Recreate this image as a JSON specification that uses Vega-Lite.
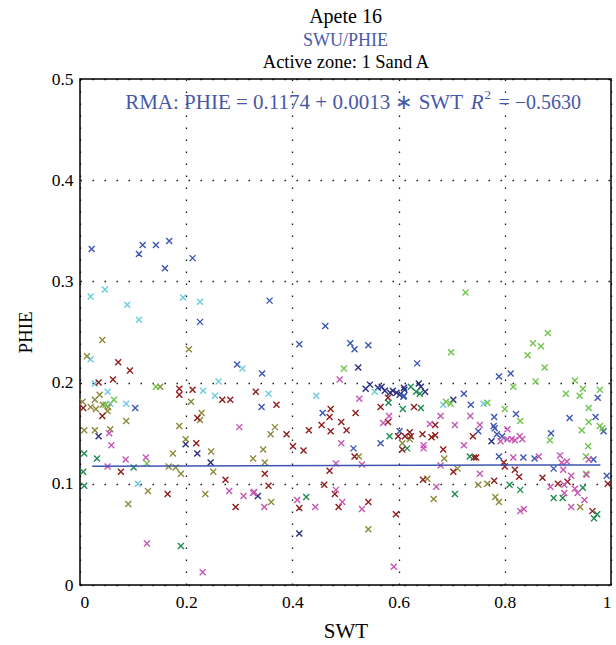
{
"$schema":"https://vega.github.io/schema/vega-lite/v6.json",
"width":531,"height":506,
"autosize":"none",
"padding":{"left":80,"top":79,"right":5,"bottom":60},
"background":"white",
"title":{"text":"Apete 16","subtitle":"SWU/PHIE","font":"Liberation Serif","fontSize":20,"fontWeight":"normal","color":"#000","subtitleFont":"Liberation Serif","subtitleFontSize":18,"subtitleColor":"#4a5aa8","subtitlePadding":5,"anchor":"middle","offset":2},
"config":{
 "view":{"stroke":"#000","strokeWidth":1.5},
 "axis":{"labelFont":"Liberation Serif","labelFontSize":17.5,"labelColor":"#000","titleFont":"Liberation Serif","titleFontSize":19,"titleFontWeight":"normal","titleColor":"#000","domain":false,"ticks":false,"grid":true,"gridColor":"#000","gridDash":[1.5,10.5],"gridWidth":1.3,"gridOpacity":0.9}
},
"datasets":{
"pts":[
{"g":"B","SWT":0.022,"PHIE":0.332},{"g":"B","SWT":0.111,"PHIE":0.327},{"g":"B","SWT":0.118,"PHIE":0.336},{"g":"B","SWT":0.143,"PHIE":0.336},{"g":"B","SWT":0.168,"PHIE":0.340},{"g":"B","SWT":0.160,"PHIE":0.313},{"g":"B","SWT":0.212,"PHIE":0.323},{"g":"B","SWT":0.226,"PHIE":0.260},{"g":"B","SWT":0.296,"PHIE":0.218},{"g":"B","SWT":0.104,"PHIE":0.175},{"g":"B","SWT":0.413,"PHIE":0.238},{"g":"B","SWT":0.343,"PHIE":0.209},{"g":"B","SWT":0.342,"PHIE":0.176},{"g":"B","SWT":0.457,"PHIE":0.170},{"g":"B","SWT":0.357,"PHIE":0.281},{"g":"B","SWT":0.462,"PHIE":0.256},{"g":"B","SWT":0.509,"PHIE":0.239},{"g":"B","SWT":0.517,"PHIE":0.233},{"g":"B","SWT":0.543,"PHIE":0.237},{"g":"B","SWT":0.635,"PHIE":0.219},{"g":"B","SWT":0.610,"PHIE":0.187},{"g":"B","SWT":0.723,"PHIE":0.189},{"g":"B","SWT":0.566,"PHIE":0.140},{"g":"B","SWT":0.515,"PHIE":0.135},{"g":"B","SWT":0.602,"PHIE":0.152},{"g":"B","SWT":0.789,"PHIE":0.206},{"g":"B","SWT":0.811,"PHIE":0.209},{"g":"B","SWT":0.975,"PHIE":0.185},{"g":"B","SWT":0.736,"PHIE":0.178},{"g":"B","SWT":0.780,"PHIE":0.166},{"g":"B","SWT":0.821,"PHIE":0.169},{"g":"B","SWT":0.922,"PHIE":0.165},{"g":"B","SWT":0.971,"PHIE":0.166},{"g":"B","SWT":0.986,"PHIE":0.152},{"g":"B","SWT":0.750,"PHIE":0.152},{"g":"B","SWT":0.779,"PHIE":0.157},{"g":"B","SWT":0.781,"PHIE":0.155},{"g":"B","SWT":0.785,"PHIE":0.149},{"g":"B","SWT":0.795,"PHIE":0.147},{"g":"B","SWT":0.887,"PHIE":0.150},{"g":"B","SWT":0.789,"PHIE":0.127},{"g":"B","SWT":0.835,"PHIE":0.126},{"g":"B","SWT":0.856,"PHIE":0.125},{"g":"B","SWT":0.967,"PHIE":0.124},{"g":"B","SWT":0.892,"PHIE":0.115},{"g":"B","SWT":0.992,"PHIE":0.108},
{"g":"N","SWT":0.035,"PHIE":0.147},{"g":"N","SWT":0.199,"PHIE":0.139},{"g":"N","SWT":0.221,"PHIE":0.130},{"g":"N","SWT":0.246,"PHIE":0.121},{"g":"N","SWT":0.335,"PHIE":0.088},{"g":"N","SWT":0.413,"PHIE":0.051},{"g":"N","SWT":0.524,"PHIE":0.215},{"g":"N","SWT":0.538,"PHIE":0.194},{"g":"N","SWT":0.546,"PHIE":0.198},{"g":"N","SWT":0.561,"PHIE":0.195},{"g":"N","SWT":0.568,"PHIE":0.196},{"g":"N","SWT":0.574,"PHIE":0.192},{"g":"N","SWT":0.584,"PHIE":0.190},{"g":"N","SWT":0.589,"PHIE":0.192},{"g":"N","SWT":0.596,"PHIE":0.190},{"g":"N","SWT":0.602,"PHIE":0.188},{"g":"N","SWT":0.610,"PHIE":0.195},{"g":"N","SWT":0.611,"PHIE":0.193},{"g":"N","SWT":0.638,"PHIE":0.199},{"g":"N","SWT":0.642,"PHIE":0.196},{"g":"N","SWT":0.650,"PHIE":0.191},{"g":"B","SWT":0.609,"PHIE":0.186},{"g":"N","SWT":0.703,"PHIE":0.183},{"g":"N","SWT":0.775,"PHIE":0.142},
{"g":"C","SWT":0.047,"PHIE":0.292},{"g":"C","SWT":0.020,"PHIE":0.285},{"g":"C","SWT":0.089,"PHIE":0.277},{"g":"C","SWT":0.111,"PHIE":0.262},{"g":"C","SWT":0.194,"PHIE":0.284},{"g":"C","SWT":0.226,"PHIE":0.280},{"g":"C","SWT":0.020,"PHIE":0.223},{"g":"C","SWT":0.306,"PHIE":0.214},{"g":"C","SWT":0.028,"PHIE":0.199},{"g":"C","SWT":0.232,"PHIE":0.192},{"g":"C","SWT":0.261,"PHIE":0.201},{"g":"C","SWT":0.254,"PHIE":0.187},{"g":"C","SWT":0.052,"PHIE":0.191},{"g":"C","SWT":0.087,"PHIE":0.179},{"g":"C","SWT":0.057,"PHIE":0.179},{"g":"C","SWT":0.109,"PHIE":0.100},{"g":"C","SWT":0.355,"PHIE":0.189},{"g":"C","SWT":0.445,"PHIE":0.187},{"g":"C","SWT":0.555,"PHIE":0.191},{"g":"C","SWT":0.684,"PHIE":0.178},{"g":"C","SWT":0.760,"PHIE":0.179},
{"g":"O","SWT":0.042,"PHIE":0.242},{"g":"O","SWT":0.013,"PHIE":0.226},{"g":"O","SWT":0.205,"PHIE":0.233},{"g":"O","SWT":0.151,"PHIE":0.196},{"g":"O","SWT":0.209,"PHIE":0.181},{"g":"O","SWT":0.037,"PHIE":0.188},{"g":"O","SWT":0.028,"PHIE":0.183},{"g":"O","SWT":0.005,"PHIE":0.181},{"g":"O","SWT":0.020,"PHIE":0.176},{"g":"O","SWT":0.030,"PHIE":0.174},{"g":"O","SWT":0.043,"PHIE":0.178},{"g":"O","SWT":0.053,"PHIE":0.176},{"g":"O","SWT":0.052,"PHIE":0.172},{"g":"O","SWT":0.229,"PHIE":0.170},{"g":"O","SWT":0.226,"PHIE":0.163},{"g":"O","SWT":0.087,"PHIE":0.162},{"g":"O","SWT":0.187,"PHIE":0.157},{"g":"O","SWT":0.008,"PHIE":0.153},{"g":"O","SWT":0.028,"PHIE":0.153},{"g":"O","SWT":0.057,"PHIE":0.154},{"g":"O","SWT":0.199,"PHIE":0.144},{"g":"O","SWT":0.175,"PHIE":0.130},{"g":"O","SWT":0.167,"PHIE":0.117},{"g":"O","SWT":0.180,"PHIE":0.116},{"g":"O","SWT":0.190,"PHIE":0.110},{"g":"O","SWT":0.128,"PHIE":0.093},{"g":"O","SWT":0.091,"PHIE":0.080},{"g":"O","SWT":0.236,"PHIE":0.090},{"g":"O","SWT":0.251,"PHIE":0.112},{"g":"O","SWT":0.247,"PHIE":0.132},{"g":"O","SWT":0.326,"PHIE":0.125},{"g":"O","SWT":0.345,"PHIE":0.134},{"g":"O","SWT":0.348,"PHIE":0.121},{"g":"O","SWT":0.367,"PHIE":0.156},{"g":"O","SWT":0.359,"PHIE":0.149},{"g":"O","SWT":0.360,"PHIE":0.082},{"g":"O","SWT":0.525,"PHIE":0.127},{"g":"O","SWT":0.543,"PHIE":0.055},{"g":"O","SWT":0.621,"PHIE":0.144},{"g":"O","SWT":0.607,"PHIE":0.140},{"g":"O","SWT":0.686,"PHIE":0.125},{"g":"O","SWT":0.711,"PHIE":0.115},{"g":"O","SWT":0.654,"PHIE":0.105},{"g":"O","SWT":0.666,"PHIE":0.085},{"g":"O","SWT":0.750,"PHIE":0.099},{"g":"O","SWT":0.767,"PHIE":0.100},{"g":"O","SWT":0.782,"PHIE":0.087},{"g":"O","SWT":0.789,"PHIE":0.082},{"g":"O","SWT":0.942,"PHIE":0.077},
{"g":"R","SWT":0.072,"PHIE":0.220},{"g":"R","SWT":0.094,"PHIE":0.212},{"g":"R","SWT":0.062,"PHIE":0.203},{"g":"R","SWT":0.035,"PHIE":0.200},{"g":"R","SWT":0.187,"PHIE":0.194},{"g":"R","SWT":0.187,"PHIE":0.188},{"g":"R","SWT":0.212,"PHIE":0.193},{"g":"R","SWT":0.268,"PHIE":0.183},{"g":"R","SWT":0.283,"PHIE":0.183},{"g":"R","SWT":0.331,"PHIE":0.191},{"g":"R","SWT":0.006,"PHIE":0.175},{"g":"R","SWT":0.042,"PHIE":0.167},{"g":"R","SWT":0.221,"PHIE":0.165},{"g":"R","SWT":0.219,"PHIE":0.140},{"g":"R","SWT":0.077,"PHIE":0.112},{"g":"R","SWT":0.274,"PHIE":0.104},{"g":"R","SWT":0.165,"PHIE":0.090},{"g":"R","SWT":0.293,"PHIE":0.077},{"g":"R","SWT":0.370,"PHIE":0.178},{"g":"R","SWT":0.472,"PHIE":0.174},{"g":"R","SWT":0.470,"PHIE":0.166},{"g":"R","SWT":0.455,"PHIE":0.158},{"g":"R","SWT":0.472,"PHIE":0.152},{"g":"R","SWT":0.431,"PHIE":0.153},{"g":"R","SWT":0.389,"PHIE":0.149},{"g":"R","SWT":0.401,"PHIE":0.137},{"g":"R","SWT":0.421,"PHIE":0.133},{"g":"R","SWT":0.348,"PHIE":0.110},{"g":"R","SWT":0.470,"PHIE":0.113},{"g":"R","SWT":0.519,"PHIE":0.170},{"g":"R","SWT":0.580,"PHIE":0.185},{"g":"R","SWT":0.566,"PHIE":0.176},{"g":"R","SWT":0.629,"PHIE":0.176},{"g":"R","SWT":0.580,"PHIE":0.161},{"g":"R","SWT":0.492,"PHIE":0.161},{"g":"R","SWT":0.502,"PHIE":0.153},{"g":"R","SWT":0.599,"PHIE":0.147},{"g":"R","SWT":0.621,"PHIE":0.151},{"g":"R","SWT":0.623,"PHIE":0.147},{"g":"R","SWT":0.612,"PHIE":0.147},{"g":"R","SWT":0.645,"PHIE":0.149},{"g":"R","SWT":0.662,"PHIE":0.146},{"g":"R","SWT":0.669,"PHIE":0.148},{"g":"R","SWT":0.669,"PHIE":0.158},{"g":"R","SWT":0.607,"PHIE":0.134},{"g":"R","SWT":0.517,"PHIE":0.127},{"g":"R","SWT":0.684,"PHIE":0.134},{"g":"R","SWT":0.703,"PHIE":0.112},{"g":"R","SWT":0.646,"PHIE":0.104},{"g":"R","SWT":0.355,"PHIE":0.098},{"g":"R","SWT":0.413,"PHIE":0.076},{"g":"R","SWT":0.460,"PHIE":0.099},{"g":"R","SWT":0.480,"PHIE":0.090},{"g":"R","SWT":0.487,"PHIE":0.077},{"g":"R","SWT":0.543,"PHIE":0.082},{"g":"R","SWT":0.595,"PHIE":0.070},{"g":"R","SWT":0.740,"PHIE":0.147},{"g":"R","SWT":0.742,"PHIE":0.126},{"g":"R","SWT":0.746,"PHIE":0.126},{"g":"R","SWT":0.798,"PHIE":0.121},{"g":"R","SWT":0.800,"PHIE":0.117},{"g":"R","SWT":0.819,"PHIE":0.114},{"g":"R","SWT":0.827,"PHIE":0.107},{"g":"R","SWT":0.871,"PHIE":0.106},{"g":"R","SWT":0.780,"PHIE":0.103},{"g":"R","SWT":0.900,"PHIE":0.100},{"g":"R","SWT":0.918,"PHIE":0.102},{"g":"R","SWT":0.965,"PHIE":0.073},{"g":"R","SWT":0.994,"PHIE":0.100},
{"g":"G","SWT":0.008,"PHIE":0.130},{"g":"G","SWT":0.032,"PHIE":0.125},{"g":"G","SWT":0.101,"PHIE":0.116},{"g":"G","SWT":0.006,"PHIE":0.112},{"g":"G","SWT":0.008,"PHIE":0.098},{"g":"G","SWT":0.190,"PHIE":0.0385},{"g":"G","SWT":0.426,"PHIE":0.087},{"g":"G","SWT":0.623,"PHIE":0.196},{"g":"G","SWT":0.633,"PHIE":0.191},{"g":"G","SWT":0.640,"PHIE":0.189},{"g":"G","SWT":0.581,"PHIE":0.180},{"g":"G","SWT":0.608,"PHIE":0.174},{"g":"G","SWT":0.642,"PHIE":0.175},{"g":"G","SWT":0.583,"PHIE":0.147},{"g":"G","SWT":0.616,"PHIE":0.135},{"g":"G","SWT":0.734,"PHIE":0.127},{"g":"G","SWT":0.706,"PHIE":0.090},{"g":"G","SWT":0.809,"PHIE":0.099},{"g":"G","SWT":0.829,"PHIE":0.094},{"g":"G","SWT":0.892,"PHIE":0.086},{"g":"G","SWT":0.909,"PHIE":0.086},{"g":"G","SWT":0.947,"PHIE":0.096},{"g":"G","SWT":0.974,"PHIE":0.070},{"g":"G","SWT":0.968,"PHIE":0.066},
{"g":"L","SWT":0.143,"PHIE":0.196},{"g":"L","SWT":0.064,"PHIE":0.183},{"g":"L","SWT":0.048,"PHIE":0.178},{"g":"L","SWT":0.126,"PHIE":0.120},{"g":"L","SWT":0.497,"PHIE":0.214},{"g":"L","SWT":0.699,"PHIE":0.230},{"g":"L","SWT":0.726,"PHIE":0.289},{"g":"L","SWT":0.689,"PHIE":0.181},{"g":"L","SWT":0.698,"PHIE":0.179},{"g":"L","SWT":0.767,"PHIE":0.180},{"g":"L","SWT":0.800,"PHIE":0.174},{"g":"L","SWT":0.881,"PHIE":0.249},{"g":"L","SWT":0.853,"PHIE":0.239},{"g":"L","SWT":0.868,"PHIE":0.236},{"g":"L","SWT":0.843,"PHIE":0.227},{"g":"L","SWT":0.875,"PHIE":0.215},{"g":"L","SWT":0.858,"PHIE":0.201},{"g":"L","SWT":0.932,"PHIE":0.202},{"g":"L","SWT":0.816,"PHIE":0.196},{"g":"L","SWT":0.947,"PHIE":0.194},{"g":"L","SWT":0.979,"PHIE":0.193},{"g":"L","SWT":0.915,"PHIE":0.189},{"g":"L","SWT":0.941,"PHIE":0.187},{"g":"L","SWT":0.958,"PHIE":0.175},{"g":"L","SWT":0.829,"PHIE":0.162},{"g":"L","SWT":0.958,"PHIE":0.161},{"g":"L","SWT":0.945,"PHIE":0.153},{"g":"L","SWT":0.979,"PHIE":0.157},{"g":"L","SWT":0.984,"PHIE":0.155},{"g":"L","SWT":0.885,"PHIE":0.143},{"g":"L","SWT":0.957,"PHIE":0.137},{"g":"L","SWT":0.953,"PHIE":0.127},{"g":"L","SWT":0.953,"PHIE":0.110},
{"g":"M","SWT":0.055,"PHIE":0.150},{"g":"M","SWT":0.059,"PHIE":0.138},{"g":"M","SWT":0.086,"PHIE":0.124},{"g":"M","SWT":0.124,"PHIE":0.126},{"g":"M","SWT":0.052,"PHIE":0.117},{"g":"M","SWT":0.126,"PHIE":0.041},{"g":"M","SWT":0.231,"PHIE":0.0125},{"g":"M","SWT":0.281,"PHIE":0.093},{"g":"M","SWT":0.308,"PHIE":0.088},{"g":"M","SWT":0.326,"PHIE":0.091},{"g":"M","SWT":0.300,"PHIE":0.156},{"g":"M","SWT":0.489,"PHIE":0.203},{"g":"M","SWT":0.526,"PHIE":0.184},{"g":"M","SWT":0.582,"PHIE":0.167},{"g":"M","SWT":0.482,"PHIE":0.120},{"g":"M","SWT":0.571,"PHIE":0.160},{"g":"M","SWT":0.492,"PHIE":0.140},{"g":"M","SWT":0.531,"PHIE":0.119},{"g":"M","SWT":0.328,"PHIE":0.092},{"g":"M","SWT":0.347,"PHIE":0.077},{"g":"M","SWT":0.409,"PHIE":0.084},{"g":"M","SWT":0.443,"PHIE":0.077},{"g":"M","SWT":0.482,"PHIE":0.094},{"g":"M","SWT":0.494,"PHIE":0.082},{"g":"M","SWT":0.531,"PHIE":0.075},{"g":"M","SWT":0.591,"PHIE":0.018},{"g":"M","SWT":0.659,"PHIE":0.159},{"g":"M","SWT":0.679,"PHIE":0.167},{"g":"M","SWT":0.706,"PHIE":0.158},{"g":"M","SWT":0.723,"PHIE":0.138},{"g":"M","SWT":0.647,"PHIE":0.138},{"g":"M","SWT":0.647,"PHIE":0.135},{"g":"M","SWT":0.679,"PHIE":0.118},{"g":"M","SWT":0.671,"PHIE":0.097},{"g":"M","SWT":0.735,"PHIE":0.167},{"g":"M","SWT":0.753,"PHIE":0.158},{"g":"M","SWT":0.805,"PHIE":0.154},{"g":"M","SWT":0.792,"PHIE":0.142},{"g":"M","SWT":0.805,"PHIE":0.144},{"g":"M","SWT":0.813,"PHIE":0.144},{"g":"M","SWT":0.819,"PHIE":0.143},{"g":"M","SWT":0.828,"PHIE":0.147},{"g":"M","SWT":0.833,"PHIE":0.144},{"g":"M","SWT":0.816,"PHIE":0.126},{"g":"M","SWT":0.864,"PHIE":0.127},{"g":"M","SWT":0.904,"PHIE":0.128},{"g":"M","SWT":0.958,"PHIE":0.124},{"g":"M","SWT":0.907,"PHIE":0.121},{"g":"M","SWT":0.917,"PHIE":0.122},{"g":"M","SWT":0.910,"PHIE":0.114},{"g":"M","SWT":0.753,"PHIE":0.110},{"g":"M","SWT":0.925,"PHIE":0.108},{"g":"M","SWT":0.829,"PHIE":0.073},{"g":"M","SWT":0.836,"PHIE":0.075},{"g":"M","SWT":0.886,"PHIE":0.097},{"g":"M","SWT":0.912,"PHIE":0.099},{"g":"M","SWT":0.912,"PHIE":0.091},{"g":"M","SWT":0.932,"PHIE":0.095},{"g":"M","SWT":0.937,"PHIE":0.091},{"g":"M","SWT":0.950,"PHIE":0.084},{"g":"M","SWT":0.925,"PHIE":0.077},{"g":"M","SWT":0.954,"PHIE":0.109}
],
"fit":[{"SWT":0.023,"PHIE":0.1174},{"SWT":0.98,"PHIE":0.1187}],
"one":[{}]
},
"layer":[
{"data":{"name":"pts"},
 "mark":{"type":"point","shape":"M-1,-1L1,1M-1,1L1,-1","filled":false,"strokeWidth":1.4,"size":36,"opacity":1},
 "encoding":{
  "x":{"field":"SWT","type":"quantitative","scale":{"domain":[0,1],"nice":false},"axis":{"values":[0,0.2,0.4,0.6,0.8,1],"format":"~g","labelPadding":8,"title":"SWT","titleFontSize":21,"titlePadding":10}},
  "y":{"field":"PHIE","type":"quantitative","scale":{"domain":[0,0.5],"nice":false},"axis":{"values":[0,0.1,0.2,0.3,0.4,0.5],"labelExpr":"datum.value == 0 ? '0' : format(datum.value, '.1f')","labelPadding":7,"title":"PHIE","titlePadding":16}},
  "color":{"field":"g","type":"nominal","legend":null,"scale":{"domain":["B","N","C","O","R","G","L","M"],"range":["#3b55b4","#2a2f80","#6ccce0","#8c8a3a","#901c1c","#1f8a50","#70c44a","#c656b4"]}}
 }},
{"data":{"name":"fit"},
 "mark":{"type":"line","color":"#3d55b0","strokeWidth":1.5},
 "encoding":{
  "x":{"field":"SWT","type":"quantitative","axis":{"orient":"top","labels":false,"grid":false,"title":"Active zone: 1 Sand A","titleFontSize":18.5,"titlePadding":8}},
  "y":{"field":"PHIE","type":"quantitative","axis":null}
 }},
{"data":{"name":"one"},
 "mark":{"type":"text","text":"RMA: PHIE = 0.1174 + 0.0013 ∗ SWT","align":"left","baseline":"middle","font":"Liberation Serif","fontSize":21,"color":"#4658a8"},
 "encoding":{"x":{"datum":0.085,"type":"quantitative","axis":null},"y":{"datum":0.476,"type":"quantitative","axis":null}}},
{"data":{"name":"one"},
 "mark":{"type":"text","text":"R","align":"left","baseline":"middle","font":"Liberation Serif","fontSize":21,"fontStyle":"italic","color":"#4658a8"},
 "encoding":{"x":{"datum":0.736,"type":"quantitative","axis":null},"y":{"datum":0.476,"type":"quantitative","axis":null}}},
{"data":{"name":"one"},
 "mark":{"type":"text","text":"2","align":"left","baseline":"middle","font":"Liberation Serif","fontSize":13,"dy":-8,"color":"#4658a8"},
 "encoding":{"x":{"datum":0.762,"type":"quantitative","axis":null},"y":{"datum":0.476,"type":"quantitative","axis":null}}},
{"data":{"name":"one"},
 "mark":{"type":"text","text":"= −0.5630","align":"left","baseline":"middle","font":"Liberation Serif","fontSize":20,"color":"#4658a8"},
 "encoding":{"x":{"datum":0.788,"type":"quantitative","axis":null},"y":{"datum":0.476,"type":"quantitative","axis":null}}}
],
"resolve":{"axis":{"x":"independent","y":"independent"}}
}
